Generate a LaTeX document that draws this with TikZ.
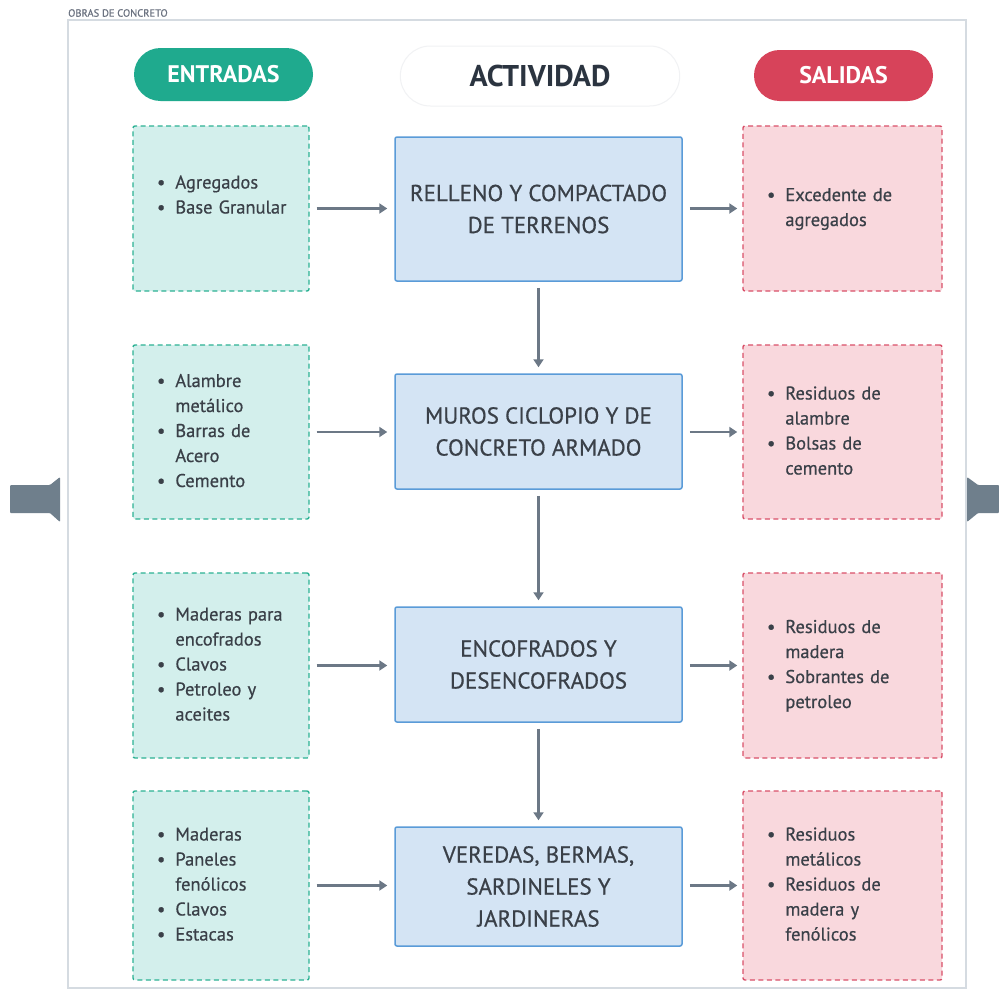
\documentclass[tikz,border=0pt]{standalone}
\usepackage{fontspec}
\setmainfont{PT Sans}
\newfontfamily\medfont{PT Sans}[FakeBold=0.6]
\usetikzlibrary{arrows.meta,shapes.misc}
\definecolor{tealpill}{HTML}{1FAA8E}
\definecolor{redpill}{HTML}{D7435A}
\definecolor{entfill}{HTML}{D3EFEC}
\definecolor{entline}{HTML}{2DB294}
\definecolor{actfill}{HTML}{D4E4F4}
\definecolor{actline}{HTML}{5A9BD8}
\definecolor{salfill}{HTML}{F9D8DD}
\definecolor{salline}{HTML}{D95069}
\definecolor{arrgray}{HTML}{6C7886}
\definecolor{txt}{HTML}{3A4048}
\definecolor{sideg}{HTML}{6F7F8C}
\definecolor{framec}{HTML}{D5DBE1}
\definecolor{titlec}{HTML}{6B7280}
\definecolor{hactline}{HTML}{F1F2F4}
\definecolor{hacttxt}{HTML}{2B3440}
\newcommand{\blist}[1]{\begin{tabular}{@{}l@{\hspace{10pt}}l@{}}#1\end{tabular}}
\tikzset{
  pill/.style={rounded rectangle, minimum width=179pt, minimum height=53pt, text=white, font=\fontsize{24}{28}\selectfont\bfseries, inner sep=0pt},
  entbox/.style={draw=entline, fill=entfill, dash pattern=on 5pt off 3.5pt, line width=1.4pt, rounded corners=2pt, minimum width=174pt, text width=128pt, inner xsep=24pt, align=left, text=txt, font=\medfont\fontsize{18.5}{25}\selectfont},
  salbox/.style={draw=salline, fill=salfill, dash pattern=on 5pt off 3.5pt, line width=1.4pt, rounded corners=2pt, minimum width=199pt, text width=151pt, inner xsep=24pt, align=left, text=txt, font=\medfont\fontsize{18.5}{25}\selectfont},
  actbox/.style={draw=actline, fill=actfill, line width=1.5pt, rounded corners=2pt, minimum width=287pt, align=center, text=txt, font=\medfont\fontsize{23}{32}\selectfont},
  conn/.style={draw=arrgray, line width=2.4pt, -{Triangle[length=8pt,width=10pt]}, shorten <=7pt, shorten >=7pt}
}
\begin{document}
\begin{tikzpicture}[x=1pt,y=-1pt]
\useasboundingbox (0,0) rectangle (999,996);
\fill[white] (0,0) rectangle (999,996);
% title and frame
\node[anchor=west, inner sep=0pt, text=titlec, font=\medfont\fontsize{10.5}{12}\selectfont] (title) at (68,13) {OBRAS DE CONCRETO};
\draw[framec, line width=1.2pt] (68,20) rectangle (966,988);
% side markers
\fill[sideg, rounded corners=1pt] (10,485) -- (50,485) -- (60,477) -- (60,522) -- (50,513) -- (10,513) -- cycle;
\fill[sideg, rounded corners=1pt] (967,477) -- (978,485) -- (999,485) -- (999,513) -- (978,513) -- (967,522) -- cycle;
% headers
\node[pill, fill=tealpill] (hent) at (223.5,74.5) {ENTRADAS};
\node[rounded rectangle, draw=hactline, line width=1pt, fill=white, minimum width=286pt, minimum height=60pt, text=hacttxt, font=\fontsize{30}{34}\selectfont\bfseries] (hact) at (540,76) {ACTIVIDAD};
\node[pill, fill=redpill, minimum height=51pt] (hsal) at (843.5,75.5) {SALIDAS};
% entradas
\node[entbox, minimum height=165pt] (e1) at (221,208.5) {\blist{\textbullet & Agregados\\ \textbullet & Base Granular\\ & }};
\node[entbox, minimum height=174pt] (e2) at (221,432) {\blist{\textbullet & Alambre\\ & metálico\\ \textbullet & Barras de\\ & Acero\\ \textbullet & Cemento}};
\node[entbox, minimum height=185pt] (e3) at (221,665.5) {\blist{\textbullet & Maderas para\\ & encofrados\\ \textbullet & Clavos\\ \textbullet & Petroleo y\\ & aceites}};
\node[entbox, minimum height=189pt] (e4) at (221,885.5) {\blist{\textbullet & Maderas\\ \textbullet & Paneles\\ & fenólicos\\ \textbullet & Clavos\\ \textbullet & Estacas}};
% actividades
\node[actbox, minimum height=144pt] (a1) at (538.5,209) {RELLENO Y COMPACTADO\\DE TERRENOS};
\node[actbox, minimum height=115pt] (a2) at (538.5,431.5) {MUROS CICLOPIO Y DE\\CONCRETO ARMADO};
\node[actbox, minimum height=115pt] (a3) at (538.5,664.5) {ENCOFRADOS Y\\DESENCOFRADOS};
\node[actbox, minimum height=119pt] (a4) at (538.5,886.5) {VEREDAS, BERMAS,\\SARDINELES Y\\JARDINERAS};
% salidas
\node[salbox, minimum height=165pt] (s1) at (842.5,208.5) {\blist{\textbullet & Excedente de\\ & agregados}};
\node[salbox, minimum height=174pt] (s2) at (842.5,432) {\blist{\textbullet & Residuos de\\ & alambre\\ \textbullet & Bolsas de\\ & cemento}};
\node[salbox, minimum height=185pt] (s3) at (842.5,665.5) {\blist{\textbullet & Residuos de\\ & madera\\ \textbullet & Sobrantes de\\ & petroleo}};
\node[salbox, minimum height=189pt] (s4) at (842.5,885.5) {\blist{\textbullet & Residuos\\ & metálicos\\ \textbullet & Residuos de\\ & madera y\\ & fenólicos}};
% connectors
\foreach \i in {1,2,3,4}{
  \draw[conn] (e\i.east) -- (e\i.east -| a\i.west);
  \draw[conn, shorten >=5pt] (a\i.east |- s\i.west) -- (s\i.west);
}
\draw[conn, shorten <=6pt, shorten >=6pt] (a1.south) -- (a2.north);
\draw[conn, shorten <=6pt, shorten >=6pt] (a2.south) -- (a3.north);
\draw[conn, shorten <=6pt, shorten >=6pt] (a3.south) -- (a4.north);
\end{tikzpicture}
\end{document}
